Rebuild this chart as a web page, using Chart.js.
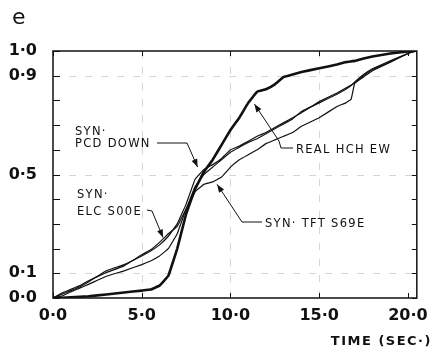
<!DOCTYPE html>
<html>
<head>
<meta charset="utf-8">
<script src="https://cdn.jsdelivr.net/npm/chart.js@4/dist/chart.umd.min.js"></script>
<style>
html,body{margin:0;padding:0;background:#fff;}
#c{display:block;}
</style>
</head>
<body>
<canvas id="c" width="436" height="352"></canvas>
<script>
// ---- data (normalized cumulative intensity vs time, sec) ----
const timeSec = [0,0.5,1,1.5,2,3,4,5,5.5,6,6.5,7,7.5,8,8.5,9,9.5,10,10.5,11,11.5,12,12.5,13,13.5,14,15,16,16.5,16.8,17,17.5,18,19,20,20.4];
const realHCH = [0,0.001,0.003,0.005,0.007,0.014,0.022,0.03,0.034,0.05,0.09,0.2,0.34,0.44,0.51,0.56,0.62,0.68,0.73,0.79,0.835,0.845,0.865,0.895,0.905,0.915,0.93,0.945,0.955,0.958,0.96,0.97,0.978,0.99,0.998,1.0];
const synELC  = [0,0.02,0.035,0.05,0.07,0.103,0.13,0.175,0.195,0.225,0.26,0.29,0.36,0.45,0.5,0.53,0.56,0.59,0.61,0.63,0.645,0.665,0.685,0.705,0.725,0.755,0.79,0.825,0.845,0.86,0.875,0.905,0.928,0.96,0.99,1.0];
const synPCD  = [0,0.015,0.03,0.045,0.065,0.11,0.135,0.17,0.19,0.215,0.25,0.3,0.38,0.48,0.52,0.54,0.565,0.6,0.615,0.635,0.655,0.67,0.69,0.71,0.73,0.75,0.795,0.83,0.85,0.862,0.87,0.9,0.925,0.955,0.99,1.0];
const synTFT  = [0,0.008,0.025,0.04,0.055,0.088,0.11,0.135,0.15,0.17,0.2,0.26,0.36,0.43,0.46,0.47,0.49,0.53,0.56,0.58,0.6,0.625,0.64,0.655,0.67,0.695,0.73,0.775,0.79,0.805,0.87,0.895,0.92,0.955,0.99,1.0];
const xTickValues = [0,5,10,15,20];
const yTickValues = [0,0.1,0.2,0.3,0.4,0.5,0.6,0.7,0.8,0.9,1.0];
const yLabelled = [0,0.1,0.5,0.9,1.0];
const xGridValues = [5,10,15];
const yGridValues = [0.1,0.5,0.9];

const fmt = v => v.toFixed(1).replace('.', '·');
const pts = arr => timeSec.map((t,i)=>({x:t,y:arr[i]}));
const INK = '#111';

const decor = {
  id:'decor',
  beforeDatasetsDraw(chart){
    const {ctx, chartArea:a, scales:{x,y}} = chart;
    ctx.save();
    ctx.strokeStyle = '#d6d6d6';
    ctx.lineWidth = 1;
    ctx.setLineDash([7,9]);
    yGridValues.forEach(v=>{
      const py = Math.round(y.getPixelForValue(v))+0.5;
      ctx.beginPath(); ctx.moveTo(a.left,py); ctx.lineTo(a.right,py); ctx.stroke();
    });
    xGridValues.forEach(v=>{
      const px = Math.round(x.getPixelForValue(v))+0.5;
      ctx.beginPath(); ctx.moveTo(px,a.top); ctx.lineTo(px,a.bottom); ctx.stroke();
    });
    ctx.setLineDash([]);
    // frame
    ctx.strokeStyle = INK;
    ctx.lineWidth = 1.5;
    ctx.strokeRect(a.left, a.top, a.right-a.left, a.bottom-a.top);
    // inward tick marks
    ctx.lineWidth = 1;
    yTickValues.forEach(v=>{
      const py = Math.round(y.getPixelForValue(v))+0.5;
      ctx.beginPath(); ctx.moveTo(a.left,py); ctx.lineTo(a.left+7,py); ctx.stroke();
      ctx.beginPath(); ctx.moveTo(a.right,py); ctx.lineTo(a.right-5,py); ctx.stroke();
    });
    xTickValues.forEach(v=>{
      const px = Math.round(x.getPixelForValue(v))+0.5;
      ctx.beginPath(); ctx.moveTo(px,a.bottom); ctx.lineTo(px,a.bottom-5); ctx.stroke();
      ctx.beginPath(); ctx.moveTo(px,a.top); ctx.lineTo(px,a.top+5); ctx.stroke();
    });
    ctx.restore();
  },
  afterDatasetsDraw(chart){
    const {ctx, scales:{x,y}} = chart;
    ctx.save();
    ctx.fillStyle = INK; ctx.strokeStyle = INK;
    // panel letter
    ctx.font = '22px "DejaVu Sans"';
    ctx.textBaseline = 'alphabetic';
    ctx.fillText('e', 12, 24);
    // axis title
    ctx.font = 'bold 13px "DejaVu Sans"';
    ctx.letterSpacing = '1.5px';
    ctx.textAlign = 'right';
    ctx.fillText('TIME (SEC·)', 432, 345);
    ctx.textAlign = 'left';
    // annotations
    ctx.font = '11.5px "DejaVu Sans"';
    ctx.letterSpacing = '1.3px';
    const P = (t,v)=>[x.getPixelForValue(t), y.getPixelForValue(v)];
    function leader(pts){
      ctx.lineWidth = 1;
      ctx.beginPath(); ctx.moveTo(pts[0][0],pts[0][1]);
      for(let i=1;i<pts.length;i++) ctx.lineTo(pts[i][0],pts[i][1]);
      ctx.stroke();
      const [x1,y1] = pts[pts.length-2], [x2,y2] = pts[pts.length-1];
      const ang = Math.atan2(y2-y1,x2-x1), L=8, W=3;
      ctx.beginPath();
      ctx.moveTo(x2,y2);
      ctx.lineTo(x2-L*Math.cos(ang)+W*Math.sin(ang), y2-L*Math.sin(ang)-W*Math.cos(ang));
      ctx.lineTo(x2-L*Math.cos(ang)-W*Math.sin(ang), y2-L*Math.sin(ang)+W*Math.cos(ang));
      ctx.closePath(); ctx.fill();
    }
    // SYN PCD DOWN
    ctx.fillText('SYN·', 75, 135);
    ctx.fillText('PCD DOWN', 75, 147);
    leader([[157,143],[187,143],P(8.15,0.53)]);
    // REAL HCH EW
    ctx.fillText('REAL HCH EW', 296, 153);
    leader([[293,148],[281,148],[279,141],P(11.35,0.785)]);
    // SYN TFT S69E
    ctx.fillText('SYN· TFT S69E', 265, 227);
    leader([[262,222],[242,222],P(9.25,0.46)]);
    // SYN ELC S00E
    ctx.fillText('SYN·', 77, 198);
    ctx.fillText('ELC S00E', 77, 215);
    leader([[147,210],[152,211],P(6.2,0.245)]);
    ctx.restore();
  }
};

const ds = (label, arr, w) => ({label, data: pts(arr), borderColor: INK, borderWidth: w, pointRadius: 0, tension: 0.05, fill:false});

new Chart(document.getElementById('c'), {
  type:'line',
  data:{datasets:[
    ds('SYN. ELC S00E', synELC, 1.2),
    ds('SYN. PCD DOWN', synPCD, 1.2),
    ds('SYN. TFT S69E', synTFT, 1.2),
    ds('REAL HCH EW', realHCH, 2.6)
  ]},
  options:{
    responsive:false, animation:false, devicePixelRatio:1,
    layout:{padding:{top:51,right:13,left:0,bottom:0}},
    plugins:{legend:{display:false}, tooltip:{enabled:false}},
    scales:{
      x:{type:'linear', min:0, max:20.5,
        grid:{display:false, drawTicks:false}, border:{display:false},
        afterBuildTicks: s => { s.ticks = xTickValues.map(v=>({value:v})); },
        afterFit: s => { s.height = 54; },
        ticks:{padding:8, color:INK, font:{family:'DejaVu Sans', size:16, weight:'bold'}, maxRotation:0, autoSkip:false, callback: v => fmt(v)}
      },
      y:{type:'linear', min:0, max:1,
        grid:{display:false, drawTicks:false}, border:{display:false},
        afterBuildTicks: s => { s.ticks = yTickValues.map(v=>({value:v})); },
        afterFit: s => { s.width = 53; },
        ticks:{padding:16, color:INK, font:{family:'DejaVu Sans', size:16, weight:'bold'}, autoSkip:false,
          callback: v => yLabelled.some(l=>Math.abs(l-v)<1e-6) ? fmt(v) : ''}
      }
    }
  },
  plugins:[decor]
});
</script>
</body>
</html>
